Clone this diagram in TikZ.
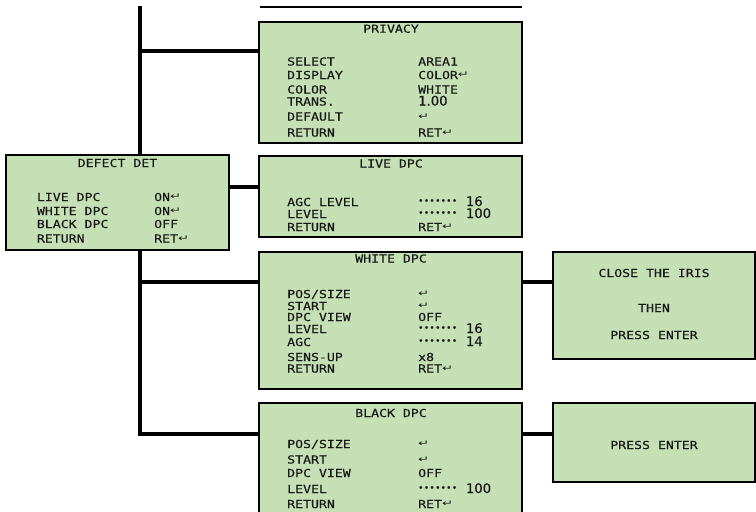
\documentclass[tikz,border=0pt]{standalone}
\usepackage{graphicx}
\usepackage{fontspec}
\newfontfamily\menufont{DejaVu Sans Mono}[FakeStretch=1.2, FakeBold=0.35]
\newfontfamily\numfont{DejaVu Sans}[FakeBold=0.25]
\newfontfamily\dotfont{DejaVu Sans}
\definecolor{menugreen}{RGB}{197,224,180}
\definecolor{menutext}{RGB}{25,25,25}
\newcommand{\ret}{\raisebox{1.5pt}{\dotfont\fontsize{11}{11}\selectfont\scalebox{1.2}[0.8]{↵}}}
\newcommand{\num}[1]{{\numfont\fontsize{13.2}{14}\selectfont #1}}
\newcommand{\lvl}[1]{\raisebox{1.3pt}{\dotfont\fontsize{9.5}{10}\selectfont •••••••}\hspace{8.5pt}\num{#1}}

\begin{document}
\begin{tikzpicture}[x=1pt,y=-1pt,
  menubox/.style={draw, line width=1.6pt, fill=menugreen, anchor=north west, inner sep=0pt, outer sep=0pt},
  link/.style={line width=4.5pt},
  title/.style={anchor=base, inner sep=0pt, text=menutext, font=\menufont\fontsize{11}{12}\selectfont},
  entry/.style={anchor=base west, inner sep=0pt, text=menutext, font=\menufont\fontsize{11}{12}\selectfont}]
  \useasboundingbox (0,0) rectangle (756,512);
  % Trunk and branches
  \coordinate (top) at (140,6);
  \coordinate (b1) at (140,51);
  \coordinate (b2) at (229,187);
  \coordinate (b3) at (140,282);
  \coordinate (bot) at (140,434);
  \coordinate (topl) at (260,7);
  \coordinate (topr) at (522,7);
  \draw[line width=2.2pt] (topl) -- (topr);
  % Menu boxes
  \node[menubox, minimum width=263, minimum height=121] (privacy) at (259,22) {};
  \node[menubox, minimum width=263, minimum height=81] (live) at (259,156) {};
  \node[menubox, minimum width=263, minimum height=137] (white) at (259,252) {};
  \node[menubox, minimum width=263, minimum height=115] (black) at (259,403) {};
  \node[menubox, minimum width=202, minimum height=107] (iris) at (553,252) {};
  \node[menubox, minimum width=202, minimum height=79] (enter) at (553,403) {};
  \draw[link] (top) -- (bot) -- (bot -| black.west);
  \draw[link] (b1) -- (b1 -| privacy.west);
  \draw[link] (b2) -- (b2 -| live.west);
  \draw[link] (b3) -- (b3 -| white.west);
  \draw[link] (b3 -| white.east) -- (b3 -| iris.west);
  \draw[link] (bot -| black.east) -- (bot -| enter.west);
  \node[menubox, minimum width=223, minimum height=95] (defect) at (6,155) {};
  % PRIVACY
  \node[title] (privacyT) at (391,32.7) {PRIVACY};
  \foreach \y/\k/\v [count=\i] in {65.5/SELECT/AREA1, 79/DISPLAY/COLOR\ret, 93.5/COLOR/WHITE,
      105.5/TRANS./{\num{1.00}}, 120.5/DEFAULT/\ret, 136.5/RETURN/RET\ret}{
    \node[entry] (pk\i) at (287,\y) {\k};
    \node[entry] (pv\i) at (418,\y) {\v};
  }
  % DEFECT DET
  \node[title] (defectT) at (117.5,167) {DEFECT DET};
  \foreach \y/\k/\v [count=\i] in {201/LIVE DPC/ON\ret, 215/WHITE DPC/ON\ret,
      228/BLACK DPC/OFF, 242.5/RETURN/RET\ret}{
    \node[entry] (dk\i) at (36.7,\y) {\k};
    \node[entry] (dv\i) at (154,\y) {\v};
  }
  % LIVE DPC
  \node[title] (liveT) at (391,167.5) {LIVE DPC};
  \foreach \y/\k/\v [count=\i] in {206/AGC LEVEL/{\lvl{16}}, 218/LEVEL/{\lvl{100}}, 231/RETURN/RET\ret}{
    \node[entry] (lk\i) at (287,\y) {\k};
    \node[entry] (lv\i) at (418,\y) {\v};
  }
  % WHITE DPC
  \node[title] (whiteT) at (391,262.5) {WHITE DPC};
  \foreach \y/\k/\v [count=\i] in {298/{POS/SIZE}/\ret, 310/START/\ret, 321/DPC VIEW/OFF,
      333/LEVEL/{\lvl{16}}, 346/AGC/{\lvl{14}}, 361/SENS-UP/x8, 372.5/RETURN/RET\ret}{
    \node[entry] (wk\i) at (287,\y) {\k};
    \node[entry] (wv\i) at (418,\y) {\v};
  }
  % BLACK DPC
  \node[title] (blackT) at (391,417) {BLACK DPC};
  \foreach \y/\k/\v [count=\i] in {448/{POS/SIZE}/\ret, 463.5/START/\ret, 477/DPC VIEW/OFF,
      493/LEVEL/{\lvl{100}}, 508/RETURN/RET\ret}{
    \node[entry] (bk\i) at (287,\y) {\k};
    \node[entry] (bv\i) at (418,\y) {\v};
  }
  % Prompts
  \node[title] (irisA) at (654,277) {CLOSE THE IRIS};
  \node[title] (irisB) at (654,312) {THEN};
  \node[title] (irisC) at (654,339) {PRESS ENTER};
  \node[title] (enterT) at (654,449) {PRESS ENTER};
\end{tikzpicture}
\end{document}
